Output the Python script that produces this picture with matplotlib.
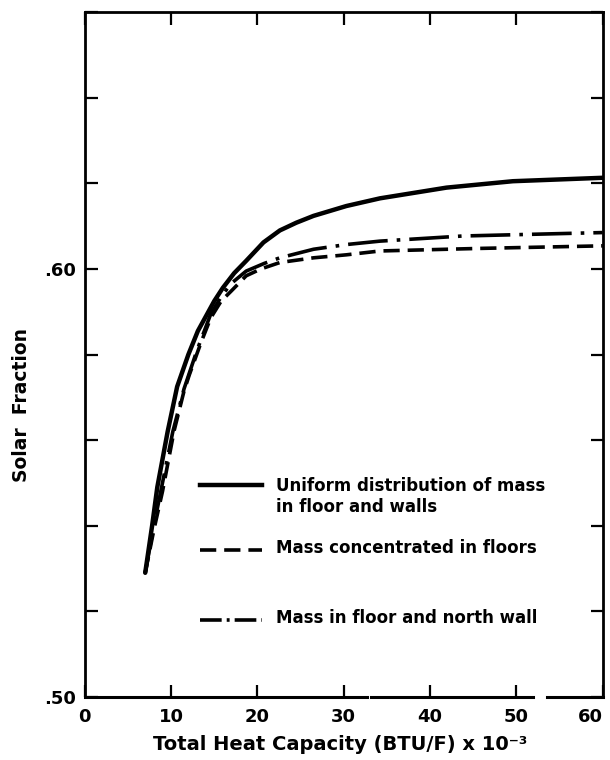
import matplotlib
matplotlib.use("Agg")
import matplotlib.pyplot as plt

plt.rcParams['font.family'] = ['DejaVu Sans']
plt.rcParams['font.weight'] = 'bold'

# total heat capacity (BTU/F x 1e-3) and solar fraction
x_uniform = [7.0, 7.8, 8.4, 9.6, 10.7, 12.0, 13.1, 15.0, 16.0, 17.3, 18.7,
             20.7, 22.6, 24.5, 26.5, 30.3, 34.2, 41.9, 49.6, 60.0]
y_uniform = [.529, .540, .549, .562, .5725, .5800, .5855, .5925, .5956, .599,
             .6019, .6062, .6090, .6108, .6124, .6147, .6165, .6190, .6205,
             .6213]

x_floor = [7.0, 8.0, 9.0, 10.35, 11.5, 12.1, 13.5, 14.6, 15.8, 16.9, 18.7,
           20.4, 22.6, 26.5, 30.3, 34.2, 45.8, 60.0]
y_floor = [.529, .539, .548, .5622, .5715, .5752, .583, .5886, .5925, .5947,
           .5984, .6000, .6015, .6026, .6033, .6042, .6048, .6054]

x_north = [7.0, 8.0, 9.0, 10.2, 11.5, 13.0, 14.6, 15.8, 16.9, 18.7, 20.8,
           22.6, 26.5, 30.3, 34.2, 43.8, 60.0]
y_north = [.529, .540, .550, .562, .572, .581, .5895, .5935, .5965, .5995,
           .6013, .6026, .6046, .6057, .6065, .6077, .6085]

labels = ['Uniform distribution of mass\nin floor and walls',
          'Mass concentrated in floors',
          'Mass in floor and north wall']

xticks = [0, 10, 20, 30, 40, 50, 60]
yticks = [.50, .52, .54, .56, .58, .60, .62, .64, .66]
ytick_labels = ['.50', '', '', '', '', '.60', '', '', '']

fig = plt.figure(figsize=(6.1, 7.6), dpi=100)
ax = fig.add_axes([0.139, 0.083, 0.849, 0.901])

styles = [dict(lw=3.2, ls='-'),
          dict(lw=2.6, ls=(0, (4.5, 2.2))),
          dict(lw=2.6, ls=(0, (11, 2.5, 1, 2.5)))]
# legend samples are short, so the dash-dot one needs a tighter pattern
handle_styles = [styles[0], styles[1],
                 dict(lw=2.6, ls=(0, (6, 1.4, 0.8, 1.4)))]
series = [(x_uniform, y_uniform), (x_floor, y_floor), (x_north, y_north)]

for (xs, ys), st in zip(series, styles):
    ax.plot(xs, ys, color='black', solid_capstyle='round',
            solid_joinstyle='round', **st)

ax.set_xlim(0, 60)
ax.set_ylim(.50, .66)
ax.set_xticks(xticks)
ax.set_xticklabels([str(t) for t in xticks], fontsize=13)
ax.get_xticklabels()[-1].set_ha('right')
ax.set_yticks(yticks)
ax.set_yticklabels(ytick_labels, fontsize=13)
ax.tick_params(direction='in', length=9, width=1.6, top=True, right=True,
               pad=6)
ax.tick_params(axis='x', pad=8)

for side in ['top', 'left', 'right']:
    ax.spines[side].set_linewidth(2.0)
# bottom frame has a couple of breaks in the original print
ax.spines['bottom'].set_visible(False)
for a, b in [(0, 0.545), (0.553, 0.866), (0.893, 1.0)]:
    ax.axhline(.50, a, b, color='black', lw=2.2, clip_on=False)

# hand drawn legend
leg_y = [0.309, 0.215, 0.112]
for yy, st, lab in zip(leg_y, handle_styles, labels):
    ax.plot([0.222, 0.342], [yy, yy], color='black', transform=ax.transAxes,
            **st)
    ax.text(0.369, yy + (0.003 if '\n' not in lab else -0.016), lab,
            transform=ax.transAxes, fontsize=12, va='center', ha='left',
            linespacing=1.25)

fig.text(0.557, 0.02, 'Total Heat Capacity (BTU/F) x 10⁻³', fontsize=14,
         ha='center', va='center')
fig.text(0.036, 0.467, 'Solar  Fraction', fontsize=13.5, rotation=90,
         ha='center', va='center')

fig.savefig('out.png', dpi=100)
